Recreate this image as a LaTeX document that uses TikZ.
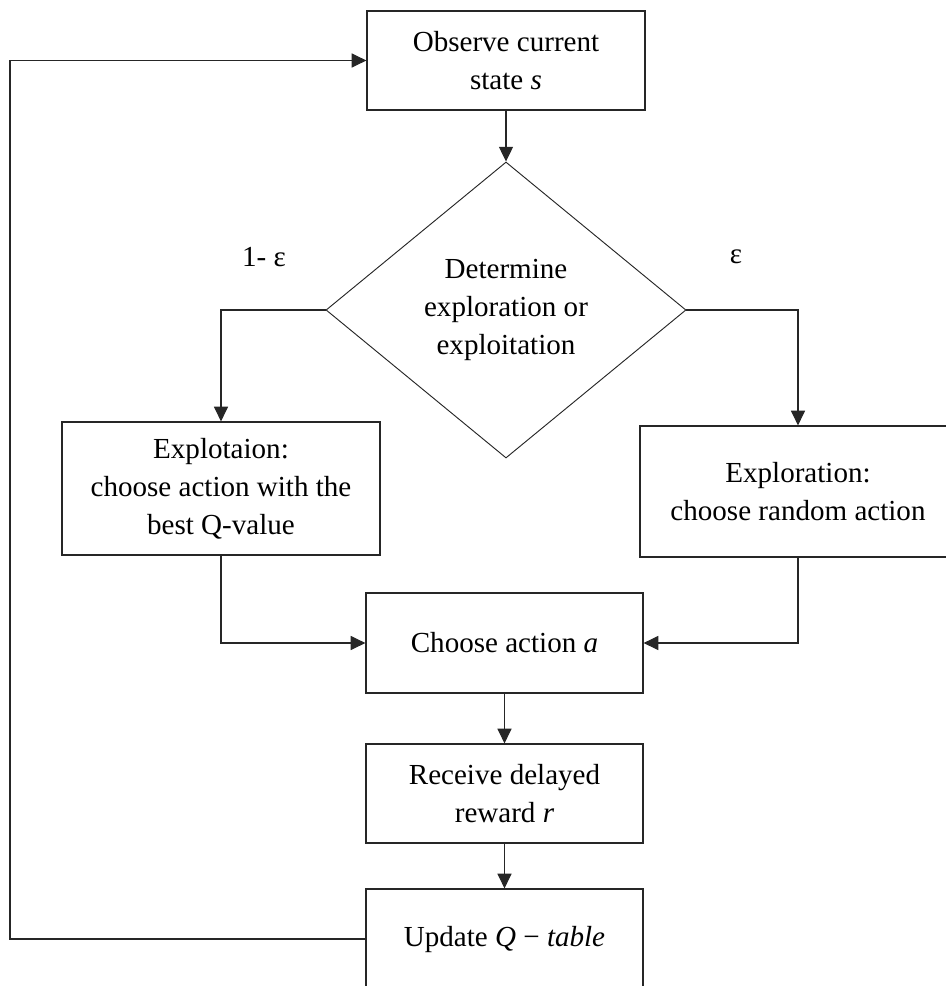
\documentclass[tikz,border=0pt]{standalone}
\usepackage{fontspec}
\setmainfont{Liberation Serif}
\usepackage{tikz}
\usetikzlibrary{shapes.geometric,arrows.meta}

\begin{document}
\begin{tikzpicture}[x=0.75pt,y=0.75pt,yscale=-1,xscale=1,
  box/.style={draw=black!85,line width=0.9pt,align=center,inner sep=0pt,font=\fontsize{21.8}{28.5}\selectfont},
  arr/.style={draw=black!85,line width=0.8pt,-{Triangle[length=11pt,width=10.5pt]}},
  lbl/.style={font=\fontsize{21.8}{28.5}\selectfont}]
\useasboundingbox (0,0) rectangle (946,986);
%Shape: Rectangle
\node[box,minimum width=208.5pt,minimum height=74.25pt] (obs) at (506,60.5) {Observe current\\state \textit{s}};
%Shape: Diamond
\node[box,shape=diamond,aspect=1.216,minimum width=270pt,minimum height=222pt,line width=0.7pt] (det) at (506,310) {Determine\\exploration or\\exploitation};
%Shape: Rectangle
\node[box,minimum width=238.5pt,minimum height=99.75pt] (expl) at (221,488.5) {Explotaion:\\choose action with the\\best Q-value};
\node[box,minimum width=237pt,minimum height=98.25pt] (explr) at (798,491.5) {Exploration:\\choose random action};
\node[box,minimum width=207.75pt,minimum height=75pt] (act) at (504.5,643) {Choose action \textit{a}};
\node[box,minimum width=207.75pt,minimum height=74.25pt] (rcv) at (504.5,793.5) {Receive delayed\\reward \textit{r}};
\node[box,minimum width=207.75pt,minimum height=75pt] (upd) at (504.5,939) {Update \textit{Q} − \textit{table}};
%Text labels
\node[lbl] (pexploit) at (264,257) {1- ε};
\node[lbl] (pexplore) at (736,257) {ε};
\coordinate (loopx) at (10,0);
%Straight Lines
\draw[arr] (obs.south) -- (det.north);
\draw[arr] (det.west) -| (expl.north);
\draw[arr] (det.east) -| (explr.north);
\draw[arr] (expl.south) |- (act.west);
\draw[arr] (explr.south) |- (act.east);
\draw[arr] (act.south) -- (rcv.north);
\draw[arr] (rcv.south) -- (upd.north);
%Feedback line
\draw[arr] (upd.west) -- (upd.west -| loopx) |- (obs.west);
\end{tikzpicture}
\end{document}
